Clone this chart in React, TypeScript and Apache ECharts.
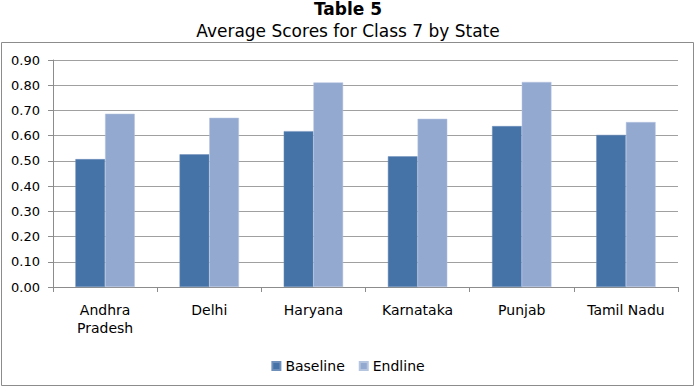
import React, { useEffect, useRef } from "react";
import * as echarts from "echarts";

const categories = ["Andhra\nPradesh", "Delhi", "Haryana", "Karnataka", "Punjab", "Tamil Nadu"];
const baseline = [0.507, 0.526, 0.618, 0.518, 0.638, 0.603];
const endline = [0.687, 0.671, 0.811, 0.667, 0.813, 0.654];
const yTicks = { min: 0, max: 0.9, interval: 0.1 };

const FONT = "DejaVu Sans";

export default function App() {
  const ref = useRef<HTMLDivElement>(null);
  useEffect(() => {
    document.body.style.margin = "0";
    const chart = echarts.init(ref.current!, null, { renderer: "svg" });
    chart.setOption({
      animation: false,
      backgroundColor: "#ffffff",
      textStyle: { fontFamily: FONT },
      title: [
        {
          text: "Table 5",
          left: "center",
          top: 0,
          padding: 0,
          textStyle: { fontFamily: FONT, fontSize: 17, fontWeight: "bold", color: "#000" },
        },
        {
          text: "Average Scores for Class 7 by State",
          left: "center",
          top: 22,
          padding: 0,
          textStyle: { fontFamily: FONT, fontSize: 17, fontWeight: "normal", color: "#000" },
        },
      ],
      graphic: [
        {
          type: "rect",
          shape: { x: 1.5, y: 42.5, width: 692, height: 343 },
          style: { fill: "none", stroke: "#8c8c8c", lineWidth: 1 },
          z: -1,
        },
      ],
      legend: {
        data: ["Baseline", "Endline"],
        left: "center",
        top: 354,
        icon: "rect",
        itemWidth: 8,
        itemHeight: 8,
        itemGap: 14,
        textStyle: { fontFamily: FONT, fontSize: 14, color: "#000" },
      },
      grid: { left: 53, right: 18, top: 60, bottom: 100, containLabel: false },
      xAxis: {
        type: "category",
        data: categories,
        axisLine: { lineStyle: { color: "#8c8c8c" } },
        axisTick: { show: true, alignWithLabel: false, length: 5, lineStyle: { color: "#8c8c8c" } },
        axisLabel: { fontFamily: FONT, fontSize: 14, color: "#000", margin: 14, lineHeight: 18, interval: 0 },
      },
      yAxis: {
        type: "value",
        min: yTicks.min,
        max: yTicks.max,
        interval: yTicks.interval,
        axisLine: { show: true, lineStyle: { color: "#8c8c8c" } },
        axisTick: { show: true, length: 5, lineStyle: { color: "#8c8c8c" } },
        splitLine: { lineStyle: { color: "#a0a0a0" } },
        axisLabel: {
          fontFamily: FONT,
          fontSize: 13,
          color: "#000",
          margin: 13,
          formatter: (v: number) => v.toFixed(2),
        },
      },
      series: [
        {
          name: "Baseline",
          type: "bar",
          data: baseline,
          barGap: "0%",
          barCategoryGap: "43%",
          itemStyle: { color: "#4572A7", borderColor: "#6f8fbb", borderWidth: 0.5 },
        },
        {
          name: "Endline",
          type: "bar",
          data: endline,
          itemStyle: { color: "#93A9CF", borderColor: "#b5c5e0", borderWidth: 0.5 },
        },
      ],
    });
    return () => chart.dispose();
  }, []);
  return <div ref={ref} style={{ width: 696, height: 387 }} />;
}
